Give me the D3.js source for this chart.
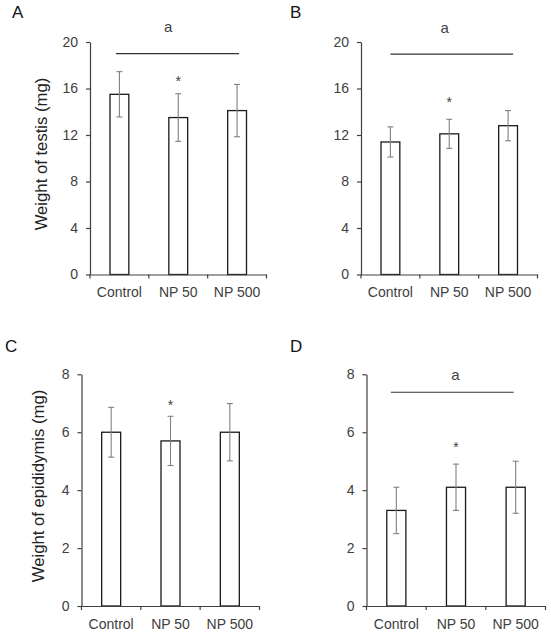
<!DOCTYPE html>
<html>
<head>
<meta charset="utf-8">
<script src="https://cdn.jsdelivr.net/npm/d3@7"></script>
<style>
  html, body { margin: 0; padding: 0; background: #fff; }
  svg { display: block; font-family: "Liberation Sans", Arial, sans-serif; }
</style>
</head>
<body>
<div id="chart"></div>
<script>
// ---------------- data ----------------
const categories = ["Control", "NP 50", "NP 500"];

const testisValuesA = [15.5, 13.5, 14.1];
const testisErrorsA = [1.95, 2.05, 2.25];
const testisValuesB = [11.4, 12.1, 12.8];
const testisErrorsB = [1.3, 1.25, 1.3];
const epiValuesC = [6.0, 5.7, 6.0];
const epiErrorsC = [0.86, 0.85, 0.99];
const epiValuesD = [3.3, 4.1, 4.1];
const epiErrorsD = [0.8, 0.8, 0.9];

const testisTicks = [0, 4, 8, 12, 16, 20];
const epiTicks = [0, 2, 4, 6, 8];

const panelLetters = ["A", "B", "C", "D"];
const yAxisTitles = ["Weight of testis (mg)", "", "Weight of epididymis (mg)", ""];

// significance annotations (value level in data units; star over "NP 50")
const starCategory = "NP 50";
const starLevels = [16.9, 15.1, 7.05, 5.6];
const groupLineLevels = [19.0, 18.95, null, 7.38];
const groupLabelLevels = [21.3, 21.2, null, 8.0];
const groupLabel = "a";

// ---------------- layout ----------------
const W = 551, H = 638;
const panels = [
  { letter: panelLetters[0], title: yAxisTitles[0], values: testisValuesA, errors: testisErrorsA, ticks: testisTicks,
    x0: 90, x1: 266.5, yBottom: 274.5, yTop: 42, letterX: 12, letterY: 18, titleX: 41, titleY: 154,
    star: starLevels[0], line: groupLineLevels[0], label: groupLabelLevels[0], lineL: -3.5, lineR: 2, labelDx: -10 },
  { letter: panelLetters[1], title: yAxisTitles[1], values: testisValuesB, errors: testisErrorsB, ticks: testisTicks,
    x0: 361, x1: 537.5, yBottom: 274.5, yTop: 42, letterX: 290, letterY: 18,
    star: starLevels[1], line: groupLineLevels[1], label: groupLabelLevels[1], lineL: 0, lineR: 5, labelDx: -4.5 },
  { letter: panelLetters[2], title: yAxisTitles[2], values: epiValuesC, errors: epiErrorsC, ticks: epiTicks,
    x0: 81.5, x1: 259.5, yBottom: 606, yTop: 374.3, letterX: 5, letterY: 352, titleX: 38.5, titleY: 486,
    star: starLevels[2], line: groupLineLevels[2], label: groupLabelLevels[2], lineL: 0, lineR: 0, labelDx: 0 },
  { letter: panelLetters[3], title: yAxisTitles[3], values: epiValuesD, errors: epiErrorsD, ticks: epiTicks,
    x0: 366.5, x1: 545.5, yBottom: 606, yTop: 374.3, letterX: 290, letterY: 352,
    star: starLevels[3], line: groupLineLevels[3], label: groupLabelLevels[3], lineL: -5.5, lineR: -2, labelDx: -0.5 }
];

const textColor = "#404040";
const axisColor = "#404040";
const barStroke = "#1a1a1a";
const errColor = "#808080";

const svg = d3.select("#chart").append("svg")
  .attr("width", W).attr("height", H)
  .attr("viewBox", `0 0 ${W} ${H}`);

svg.append("rect").attr("width", W).attr("height", H).attr("fill", "#fff");

panels.forEach(p => {
  const g = svg.append("g");
  const x = d3.scaleBand().domain(categories).range([p.x0, p.x1]).paddingInner(0).paddingOuter(0);
  const maxV = p.ticks[p.ticks.length - 1];
  const y = d3.scaleLinear().domain([0, maxV]).range([p.yBottom, p.yTop]);
  const bw = x.bandwidth() * 0.32;
  const cx = c => x(c) + x.bandwidth() / 2;

  // bars
  const data = categories.map((c, i) => ({ c, v: p.values[i], e: p.errors[i] }));
  g.selectAll("rect.bar").data(data).enter().append("rect")
    .attr("class", "bar")
    .attr("x", d => cx(d.c) - bw / 2)
    .attr("y", d => y(d.v))
    .attr("width", bw)
    .attr("height", d => y(0) - y(d.v))
    .attr("fill", "#fff")
    .attr("stroke", barStroke)
    .attr("stroke-width", 1.3);

  // error bars
  const capW = 3;
  const eg = g.selectAll("g.err").data(data).enter().append("g")
    .attr("stroke", errColor).attr("stroke-width", 1.1);
  eg.append("line")
    .attr("x1", d => cx(d.c)).attr("x2", d => cx(d.c))
    .attr("y1", d => y(d.v + d.e)).attr("y2", d => y(d.v - d.e));
  eg.append("line")
    .attr("x1", d => cx(d.c) - capW).attr("x2", d => cx(d.c) + capW)
    .attr("y1", d => y(d.v + d.e)).attr("y2", d => y(d.v + d.e));
  eg.append("line")
    .attr("x1", d => cx(d.c) - capW).attr("x2", d => cx(d.c) + capW)
    .attr("y1", d => y(d.v - d.e)).attr("y2", d => y(d.v - d.e));

  // y axis
  const yAxis = d3.axisLeft(y).tickValues(p.ticks).tickSize(4).tickSizeOuter(0).tickPadding(8)
    .tickFormat(d3.format("d"));
  const ya = g.append("g").attr("transform", `translate(${p.x0},0)`).call(yAxis);
  ya.select(".domain").attr("stroke", axisColor).attr("stroke-width", 1.2);
  ya.selectAll(".tick line").attr("stroke", axisColor).attr("stroke-width", 1.2);
  ya.selectAll(".tick text").attr("fill", textColor).attr("font-size", 14)
    .attr("font-family", "'Liberation Sans', Arial, sans-serif");

  // x axis (labels at centres, ticks at band boundaries)
  const xAxis = d3.axisBottom(x).tickSize(0).tickSizeOuter(0).tickPadding(13);
  const xa = g.append("g").attr("transform", `translate(0,${p.yBottom})`).call(xAxis);
  xa.select(".domain").attr("stroke", axisColor).attr("stroke-width", 1.2);
  xa.selectAll(".tick text").attr("fill", textColor).attr("font-size", 14)
    .attr("font-family", "'Liberation Sans', Arial, sans-serif");
  const bounds = categories.map(c => x(c)).concat([p.x1]);
  xa.selectAll("line.bound").data(bounds).enter().append("line")
    .attr("class", "bound")
    .attr("x1", d => d).attr("x2", d => d)
    .attr("y1", 0).attr("y2", 4)
    .attr("stroke", axisColor).attr("stroke-width", 1.2);

  // star
  if (p.star != null) {
    g.append("text")
      .attr("x", cx(starCategory))
      .attr("y", y(p.star) + 8)
      .attr("text-anchor", "middle")
      .attr("font-size", 14)
      .attr("fill", textColor)
      .text("*");
  }

  // group line + label
  if (p.line != null) {
    g.append("line")
      .attr("x1", cx(categories[0]) + p.lineL)
      .attr("x2", cx(categories[categories.length - 1]) + p.lineR)
      .attr("y1", y(p.line)).attr("y2", y(p.line))
      .attr("stroke", "#333").attr("stroke-width", 1.2);
    g.append("text")
      .attr("x", cx(categories[1]) + p.labelDx)
      .attr("y", y(p.label))
      .attr("dy", "0.35em")
      .attr("text-anchor", "middle")
      .attr("font-size", 15)
      .attr("fill", textColor)
      .text(groupLabel);
  }

  // panel letter
  g.append("text")
    .attr("x", p.letterX).attr("y", p.letterY)
    .attr("font-size", 17)
    .attr("fill", "#111")
    .text(p.letter);

  // y title
  if (p.title) {
    g.append("text")
      .attr("transform", `translate(${p.titleX},${p.titleY}) rotate(-90)`)
      .attr("text-anchor", "middle")
      .attr("dy", "0.35em")
      .attr("font-size", 16.7)
      .attr("fill", "#222")
      .text(p.title);
  }
});
</script>
</body>
</html>
